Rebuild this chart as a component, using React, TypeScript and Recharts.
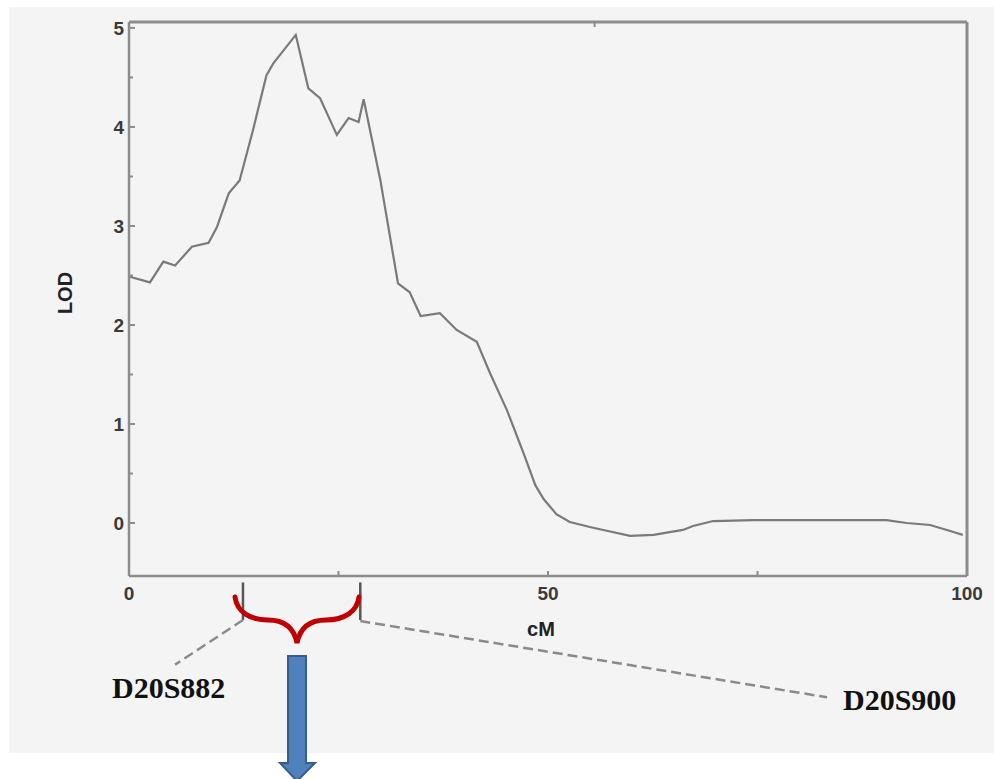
import React from "react";
import { LineChart, Line, XAxis, YAxis, ReferenceLine } from "recharts";

// Position along the chromosome (cM) and LOD score
const cM = [0, 2.5, 4.1, 5.5, 7.5, 9.5, 10.5, 11.9, 13.2, 14.8, 16.4, 17.2, 19.9, 21.4, 22.8, 24.8, 26.2, 27.4, 28.0, 30.0, 32.1, 33.5, 34.8, 37.1, 39.1, 41.5, 43.1, 45.1, 47.1, 48.5, 49.5, 51.0, 52.6, 55.0, 56.6, 59.8, 62.6, 66.1, 67.3, 69.7, 74.5, 90.4, 92.8, 95.6, 97.6, 99.5];
const lod = [2.49, 2.43, 2.64, 2.6, 2.79, 2.83, 2.99, 3.33, 3.46, 3.97, 4.52, 4.64, 4.93, 4.39, 4.29, 3.92, 4.09, 4.05, 4.28, 3.46, 2.42, 2.33, 2.09, 2.12, 1.95, 1.83, 1.51, 1.14, 0.7, 0.38, 0.24, 0.09, 0.01, -0.04, -0.07, -0.13, -0.12, -0.07, -0.03, 0.02, 0.03, 0.03, 0.0, -0.02, -0.07, -0.12];

const xTicks = [0, 25, 50, 75, 100];
const xLabels = [0, 50, 100];
const yTicks = [0, 0.5, 1, 1.5, 2, 2.5, 3, 3.5, 4, 4.5, 5];

// Marker positions (cM)
const markerNames = ["D20S882", "D20S900"];
const markerPos = [13.6, 27.6];

const data = cM.map((x, i) => ({ cM: x, lod: lod[i] }));

const AX = "#8c8c8c";
const FONT = "'Liberation Sans', Arial, sans-serif";

const LeftTick = (p: any) => {
  const { x, y, payload } = p;
  const v = payload.value;
  const major = Number.isInteger(v);
  return (
    <g>
      <line x1={x} x2={x + (major ? 6 : 4)} y1={y} y2={y} stroke={AX} strokeWidth={2} />
      {major && (
        <text x={x - 5} y={y} dy={7} textAnchor="end" fontSize={19} fontWeight="bold" fill="#3a3a3a" fontFamily={FONT}>
          {v}
        </text>
      )}
    </g>
  );
};

const RightTick = (p: any) => {
  const { x, y } = p;
  return <line x1={x} x2={x - 5} y1={y} y2={y} stroke={AX} strokeWidth={2} />;
};

const BottomTick = (p: any) => {
  const { x, y, payload } = p;
  const v = payload.value;
  return (
    <g>
      <line x1={x} x2={x} y1={y} y2={y - 5} stroke={AX} strokeWidth={2} />
      {xLabels.includes(v) && (
        <text x={x} y={y} dy={24} textAnchor="middle" fontSize={19} fontWeight="bold" fill="#3a3a3a" fontFamily={FONT}>
          {v}
        </text>
      )}
    </g>
  );
};

const TopTick = (p: any) => {
  const { x, y } = p;
  return <line x1={x} x2={x} y1={y} y2={y + 5} stroke={AX} strokeWidth={2} />;
};

export default function App() {
  return (
    <div style={{ position: "absolute", left: 0, top: 0, width: 994, height: 779, overflow: "hidden", background: "#fff" }}>
      <div style={{ position: "absolute", left: 9, top: 7, width: 985, height: 746, background: "#f4f4f4" }} />
      <div style={{ position: "absolute", left: 0, top: 0 }}>
        <LineChart width={994} height={779} data={data} margin={{ left: 69, right: 17, top: 12, bottom: 173 }}>
          <XAxis
            dataKey="cM"
            type="number"
            domain={[0, 100]}
            ticks={xTicks}
            interval={0}
            height={30}
            tickSize={0}
            tickMargin={0}
            tick={BottomTick}
            axisLine={{ stroke: AX, strokeWidth: 2.5 }}
            tickLine={false}
          />
          <XAxis
            xAxisId="t"
            orientation="top"
            type="number"
            domain={[0, 100]}
            ticks={xTicks}
            interval={0}
            height={10}
            tickSize={0}
            tickMargin={0}
            tick={TopTick}
            axisLine={{ stroke: AX, strokeWidth: 3 }}
            tickLine={false}
          />
          <YAxis
            type="number"
            domain={[-0.535, 5.06]}
            ticks={yTicks}
            interval={0}
            width={60}
            tickSize={0}
            tickMargin={0}
            tick={LeftTick}
            axisLine={{ stroke: AX, strokeWidth: 2.5 }}
            tickLine={false}
          />
          <YAxis
            yAxisId="r"
            orientation="right"
            type="number"
            domain={[-0.535, 5.06]}
            ticks={yTicks}
            interval={0}
            width={10}
            tickSize={0}
            tickMargin={0}
            tick={RightTick}
            axisLine={{ stroke: AX, strokeWidth: 3 }}
            tickLine={false}
          />
          {markerPos.map((m) => (
            <ReferenceLine
              key={"t" + m}
              ifOverflow="visible"
              segment={[{ x: m, y: -0.6 }, { x: m, y: -0.98 }]}
              stroke="#555"
              strokeWidth={2.5}
            />
          ))}
          <ReferenceLine
            ifOverflow="visible"
            segment={[{ x: markerPos[0], y: -0.98 }, { x: 5.5, y: -1.43 }]}
            stroke="#8a8a8a"
            strokeWidth={2.5}
            strokeDasharray="10 5"
          />
          <ReferenceLine
            ifOverflow="visible"
            segment={[{ x: markerPos[1], y: -0.99 }, { x: 83.3, y: -1.76 }]}
            stroke="#8a8a8a"
            strokeWidth={2.5}
            strokeDasharray="10 5"
          />
          <Line
            type="linear"
            dataKey="lod"
            stroke="#7a7a7a"
            strokeWidth={2.2}
            dot={false}
            isAnimationActive={false}
          />
        </LineChart>
      </div>
      <svg width={994} height={779} style={{ position: "absolute", left: 0, top: 0, pointerEvents: "none" }}>
        <text x={541} y={636} textAnchor="middle" fontSize={20} fontWeight="bold" fill="#222" fontFamily={FONT}>
          cM
        </text>
        <text
          x={72}
          y={293}
          textAnchor="middle"
          fontSize={20}
          fontWeight="bold"
          fill="#222"
          fontFamily={FONT}
          transform="rotate(-90 72 293)"
        >
          LOD
        </text>
        <text x={112} y={698} fontSize={30} fontWeight="bold" fill="#111" fontFamily="'Liberation Serif', 'Times New Roman', serif">
          {markerNames[0]}
        </text>
        <text x={843} y={710} fontSize={30} fontWeight="bold" fill="#111" fontFamily="'Liberation Serif', 'Times New Roman', serif">
          {markerNames[1]}
        </text>
        <path
          d="M 235 597 C 237 612, 250 620, 268 620 C 285 620, 294 628, 297 643 C 300 628, 309 620, 326 620 C 344 620, 357 612, 359 597"
          fill="none"
          stroke="#c00000"
          strokeWidth={5}
          strokeLinecap="round"
        />
        <path
          d="M 288 656 L 306 656 L 306 763 L 315 763 L 297 781 L 280 763 L 288 763 Z"
          fill="#4f81bd"
          stroke="#385d8a"
          strokeWidth={2}
        />
      </svg>
    </div>
  );
}
